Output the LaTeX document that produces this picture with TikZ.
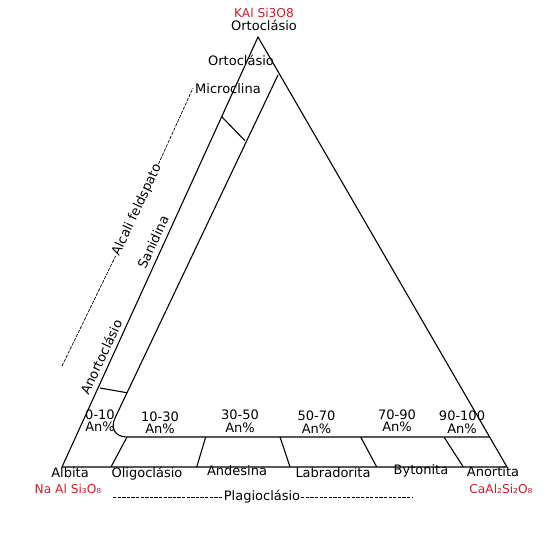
\documentclass[tikz,border=0pt]{standalone}
\usepackage{fontspec}
\setmainfont{DejaVu Sans}
\definecolor{chemred}{RGB}{205,30,45}
\begin{document}
\begin{tikzpicture}[x=1bp,y=-1bp,line width=1.1bp,
  lbl/.style={font=\fontsize{13bp}{15bp}\selectfont,inner sep=0pt},
  red/.style={lbl,text=chemred,font=\fontsize{12.2bp}{14bp}\selectfont},
  an/.style={lbl,align=center,font=\fontsize{13bp}{12.5bp}\selectfont},
  hy/.style={line width=0.7bp,dash pattern=on 3.3bp off 1.3bp},
  rot/.style={lbl,rotate=65}]
\useasboundingbox (0,0) rectangle (554,554);
\fill[white] (0,0) rectangle (554,554);
% vertices
\coordinate (T) at (258,37);
\coordinate (L) at (62,467);
\coordinate (R) at (507,467);
\coordinate (iA) at (278,75);
\coordinate (iC) at (106,437);
\coordinate (iE) at (489.6,437);
\draw (T) -- (L) -- (R) -- cycle;
\draw[rounded corners=21bp] (iA) -- (iC) -- (iE);
% alkali ticks
\coordinate (t1a) at (221.7,116.7); \coordinate (t1b) at (245,140.7);
\coordinate (t2a) at (100,388); \coordinate (t2b) at (126.7,392.7);
\draw (t1a) -- (t1b);
\draw (t2a) -- (t2b);
% plagioclase dividers
\foreach \n/\xa/\xb in {1/127/111,2/205.7/196.7,3/280/290,4/360.7/376.7,5/444/463.3}{
  \coordinate (pu\n) at (\xa,437); \coordinate (pd\n) at (\xb,467);
  \draw (pu\n) -- (pd\n);
}
% top labels
\node[red] (kal) at (264,13) {KAl Si3O8};
\node[lbl] (ort0) at (264,25) {Ortoclásio};
\node[lbl] (ort1) at (241,60) {Ortoclásio};
\node[lbl] (mic) at (228,89) {Microclina};
% rotated labels
\node[rot] (san) at (153,242) {Sanidina};
\node[rot] (anort) at (101,357) {Anortoclásio};
\node[rot,outer sep=1bp] (alc) at (137,210) {Alcali feldspato};
\coordinate (da) at (62,366);
\coordinate (db) at (193,88);
\draw[hy] (da) -- (alc.west);
\draw[hy] (alc.east) -- (db);
% An% labels
\node[an] (p1) at (100,421) {0-10\\An\%};
\node[an] (p2) at (160,423) {10-30\\An\%};
\node[an] (p3) at (240,421.5) {30-50\\An\%};
\node[an] (p4) at (316.5,422.5) {50-70\\An\%};
\node[an] (p5) at (397,421) {70-90\\An\%};
\node[an] (p6) at (462,422.5) {90-100\\An\%};
% bottom labels
\node[lbl] (alb) at (70,473) {Albita};
\node[red] (naal) at (68,489) {Na Al Si₃O₈};
\node[lbl] (oli) at (147,474) {Oligoclásio};
\node[lbl] (and) at (237,471) {Andesina};
\node[lbl] (lab) at (333,473) {Labradorita};
\node[lbl] (byt) at (421,471) {Bytonita};
\node[lbl] (ano) at (493,472) {Anortita};
\node[red] (caal) at (501,489) {CaAl₂Si₂O₈};
\node[lbl,outer sep=1bp] (plag) at (262,497) {Plagioclásio};
\coordinate (pa) at (113,497);
\coordinate (pb) at (412,497);
\draw[hy] (pa) -- (plag.west);
\draw[hy] (plag.east) -- (pb);
\end{tikzpicture}
\end{document}
